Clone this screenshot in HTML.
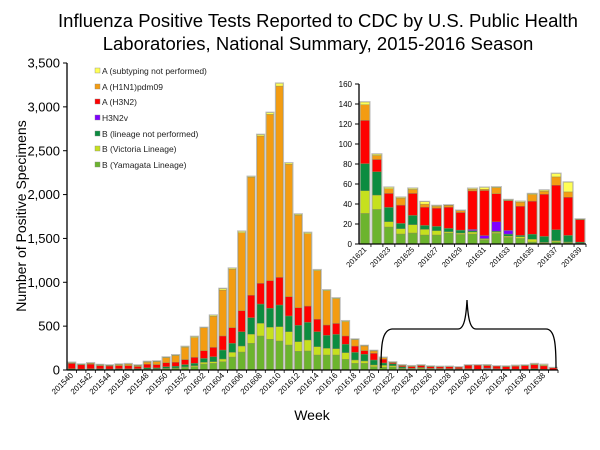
<!DOCTYPE html>
<html><head><meta charset="utf-8">
<style>
body{margin:0;background:#fff;}
svg{display:block;font-family:"Liberation Sans",Arial,sans-serif;}
</style></head>
<body>
<svg id="chart" width="600" height="450" viewBox="0 0 600 450">
<text x="318" y="27" font-size="18.5" text-anchor="middle">Influenza Positive Tests Reported to CDC by U.S. Public Health</text>
<text x="318" y="50" font-size="18.5" text-anchor="middle">Laboratories, National Summary, 2015-2016 Season</text>
<text transform="translate(26,216) rotate(-90)" font-size="14" text-anchor="middle">Number of Positive Specimens</text>
<text x="312" y="420" font-size="14" text-anchor="middle">Week</text>
<g id="main"></g>
<g id="inset"></g>
<path d="M381,368 C381,345 382,330 392,329 L458,329 C464,329 466,318 467,300 C468,318 470,329 476,329 L546,329 C555,329 556,345 556,368" fill="none" stroke="#000" stroke-width="1.3"/>
<g id="legend"></g>
</svg>
<script>
const weeks = ["201540","201541","201542","201543","201544","201545","201546","201547","201548","201549","201550","201551","201552","201601","201602","201603","201604","201605","201606","201607","201608","201609","201610","201611","201612","201613","201614","201615","201616","201617","201618","201619","201620","201621","201622","201623","201624","201625","201626","201627","201628","201629","201630","201631","201632","201633","201634","201635","201636","201637","201638","201639"];
const yamagata = [5,3,5,3,3,5,5,5,8,10,15,20,30,38,68,76,95,148,205,304,388,350,331,285,213,217,171,171,171,122,76,76,38,30.6,34.6,17,10,11,9,9,11,9.6,10,4,10.6,6.6,5.6,2,1.3,2.3,1.7,0.3];
const victoria = [0,0,0,0,0,0,0,0,2,2,3,3,5,11,19,19,30,53,68,103,144,137,163,152,110,125,95,76,72,76,38,27,19,22.6,14.3,5.3,5.3,8.3,5.6,4.3,1.3,1.3,2,1,1.3,1.3,1.7,2.7,0.3,1,0.3,0.3];
const bNotPerformed = [10,8,10,10,8,10,8,10,15,12,20,20,27,27,45,57,103,103,163,190,220,217,247,179,186,201,171,148,163,95,87,76,57,27.2,23.3,14.3,5.3,9.3,4,4.3,3.3,3,1.3,0.5,1,2,1.3,5,6,11,6.6,1.3];
const h3n2v = [0,0,0,0,0,0,0,0,0,0,0,0,0,0,0,0,0,0,0,0,0,0,0,0,0,0,0,0,0,0,0,0,0,0,0,0,0,0,0,0,0,0,1.3,3,9.3,3.7,0,0,0,0,0,0];
const h3n2 = [60,48,50,35,35,35,37,25,40,38,45,45,57,68,87,106,160,179,240,255,236,315,315,220,201,186,141,118,125,95,72,42,76,43.2,12.3,14,18.3,22,18.3,18.3,21.3,17.6,38.5,45,28,29.6,29.2,33.2,42.2,44.5,38.2,22.3];
const h1n1 = [5,3,10,8,5,10,15,10,25,33,57,77,139,226,262,355,524,665,889,1345,1680,1895,2181,1509,1056,825,555,391,281,163,72,53,27,15.6,4,4.7,7,4,3,1.7,1.7,1.7,1.7,1.3,6,0.7,4,6.6,3,8.3,5.3,0.3];
const notSubtyped = [5,3,5,4,4,5,5,5,5,5,5,6,8,10,2,10,15,11,15,8,15,20,30,15,10,12,8,8,8,8,5,3,3,2.7,1.3,1.3,0.7,1,2.3,0.7,0.3,0.3,0.7,1.7,0.7,0.3,0.7,0.7,1,3.3,9.6,0.3];
const mainTicks = [0,500,1000,1500,2000,2500,3000,3500];
const insetTicks = [0,20,40,60,80,100,120,140,160];
const seriesNames = ["B (Yamagata Lineage)","B (Victoria Lineage)","B (lineage not performed)","H3N2v","A (H3N2)","A (H1N1)pdm09","A (subtyping not performed)"];

const series=[yamagata,victoria,bNotPerformed,h3n2v,h3n2,h1n1,notSubtyped];
const colors=["#6CB42E","#C6E01E","#0C8C40","#7F00FF","#FF0000","#F39C12","#FFFF55"];
const keys=["yamagata","victoria","b-not-performed","h3n2v","h3n2","h1n1","not-subtyped"];
const NS="http://www.w3.org/2000/svg";
function mk(tag,attrs,parent){const e=document.createElementNS(NS,tag);for(const k in attrs)e.setAttribute(k,attrs[k]);parent.appendChild(e);return e;}

function drawChart(g,opt){
  const {x0,x1,y0,y1,max,ticks,start,end,labelEvery,tickFmt,tickFont,xFont,prefix}=opt;
  const n=end-start;const step=(x1-x0)/n;const bw=step*0.76;
  const ys=v=>y0-(v/max)*(y0-y1);
  const xs=i=>x0+step*(i+0.5);
  for(let i=0;i<n;i++){
    const idx=start+i;let acc=0;
    for(let s=0;s<series.length;s++){
      const v=series[s][idx];if(!v)continue;
      const r=mk("rect",{x:xs(i)-bw/2,y:ys(acc+v),width:bw,height:ys(acc)-ys(acc+v),fill:colors[s],stroke:"#8a8a5a","stroke-width":0.4},g);
      
      
      acc+=v;
    }
    const sh=mk("rect",{x:xs(i)-bw/2-0.6,y:ys(acc)-0.6,width:bw+1.2,height:ys(0)-ys(acc)+0.6,fill:"none",stroke:"#bbb","stroke-width":0.8},g);
    
    
    if(i%labelEvery===0){
      const t=mk("text",{transform:`translate(${xs(i)+2},${y0+6}) rotate(-45)`,"font-size":xFont,"text-anchor":"end"},g);
      t.textContent=weeks[idx];
      
      
    }
    const tk=mk("line",{x1:x0+step*(i+1),x2:x0+step*(i+1),y1:y0,y2:y0+3,stroke:"#000","stroke-width":0.8},g);
    
    
  }
  for(const t of ticks){
    const l=mk("line",{x1:x0-4,x2:x0,y1:ys(t),y2:ys(t),stroke:"#000","stroke-width":1},g);
    
    
    const tx=mk("text",{x:x0-7,y:ys(t)+tickFont*0.35,"font-size":tickFont,"text-anchor":"end"},g);
    tx.textContent=tickFmt(t);
    
    
  }
  const ax=mk("line",{x1:x0,x2:x0,y1:y1,y2:y0,stroke:"#000","stroke-width":1.3},g);
  
  
  const xa=mk("line",{x1:x0,x2:x1,y1:y0,y2:y0,stroke:"#000","stroke-width":1.3},g);
  
  
}
drawChart(document.getElementById("main"),{x0:67,x1:558,y0:370,y1:63,max:3500,ticks:mainTicks,start:0,end:weeks.length,labelEvery:2,tickFmt:t=>t.toLocaleString("en-US"),tickFont:13,xFont:8,prefix:"main-"});
drawChart(document.getElementById("inset"),{x0:359,x1:586,y0:244,y1:84,max:160,ticks:insetTicks,start:33,end:weeks.length,labelEvery:2,tickFmt:t=>String(t),tickFont:8,xFont:7.5,prefix:"inset-"});

const lg=document.getElementById("legend");
const order=[6,5,4,3,2,1,0];const rowsY=[72,88,103,119,135,150,166];
order.forEach((s,k)=>{
  const r=mk("rect",{x:95,y:rowsY[k]-4,width:5,height:5,fill:colors[s],stroke:"#888","stroke-width":0.4},lg);
  
  
  const t=mk("text",{x:102,y:rowsY[k]+2,"font-size":8.5,fill:"#222"},lg);
  t.textContent=seriesNames[s];
  
  
});
</script>
</body></html>
